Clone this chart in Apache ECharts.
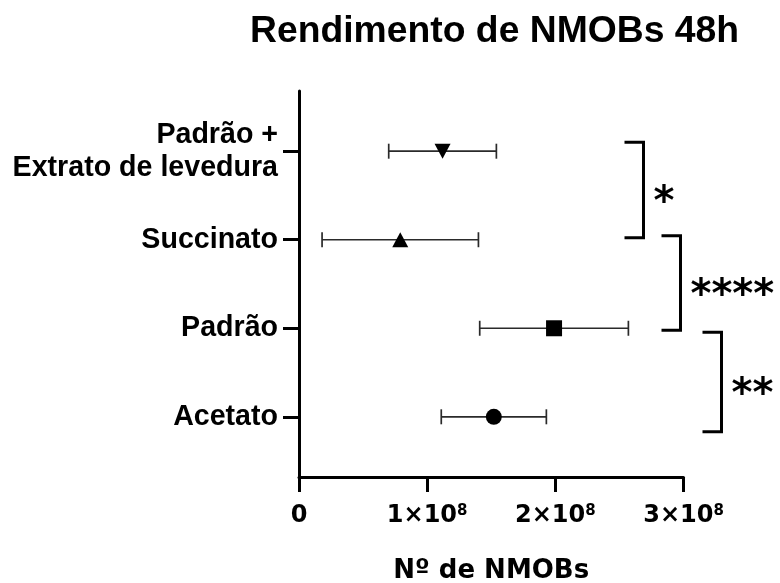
<!DOCTYPE html>
<html>
<head>
<meta charset="utf-8">
<script src="https://cdn.jsdelivr.net/npm/echarts@6/dist/echarts.min.js"></script>
<style>
  html, body { margin: 0; padding: 0; background: #fff; }
  #chart { width: 780px; height: 583px; }
</style>
</head>
<body>
<div id="chart"></div>
<script>
// Groups, bottom to top along the y axis
const categories = ['Acetato', 'Padrão', 'Succinato', 'Padrão +\nExtrato de levedura'];
// Mean yield and error (NMOBs) per group
const means = [1.52e8, 1.99e8, 0.79e8, 1.12e8];
const errors = [0.41e8, 0.58e8, 0.61e8, 0.42e8];
const symbols = ['circle', 'rect', 'triangle', 'triangle'];
const symbolRotations = [0, 0, 0, 180];
// X axis ticks
const xTicks = [0, 1e8, 2e8, 3e8];
// Significance comparisons (category indices) and their labels
const sigFrom = [3, 2, 1];
const sigTo = [2, 1, 0];
const sigLabels = ['*', '****', '**'];

const FONT = "'Liberation Sans', Arial, Helvetica, sans-serif";
const WIDE = "'DejaVu Sans', Verdana, sans-serif";

// bracket layout: horizontal offset from the axis end, and vertical trims (px)
const bracketLayout = [
  { dx: -40, topOff: -9, botOff: -2 },
  { dx: -3, topOff: -4, botOff: 2 },
  { dx: 38, topOff: 4, botOff: 15 }
];

const chart = echarts.init(document.getElementById('chart'), null, { renderer: 'canvas' });

const option = {
  backgroundColor: '#ffffff',
  animation: false,
  title: {
    text: 'Rendimento de NMOBs 48h',
    left: 245,
    top: 8,
    textStyle: { fontFamily: FONT, fontWeight: 'bold', fontSize: 37.3, color: '#000' }
  },
  grid: { left: 299, right: 96.5, top: 91, bottom: 106, containLabel: false, outerBoundsMode: 'none' },
  xAxis: {
    type: 'value',
    min: xTicks[0],
    max: xTicks[xTicks.length - 1],
    interval: xTicks[1] - xTicks[0],
    name: 'Nº de NMOBs',
    nameLocation: 'middle',
    nameGap: 81,
    nameTextStyle: { fontFamily: WIDE, fontWeight: 'bold', fontSize: 26, color: '#000' },
    axisLine: { show: true, onZero: false, lineStyle: { color: '#000', width: 3 } },
    axisTick: { show: true, inside: false, length: 15, lineStyle: { color: '#000', width: 3 } },
    splitLine: { show: false },
    axisLabel: {
      margin: 27,
      formatter: function (v) {
        if (v === 0) return '{b|0}';
        const n = Math.round(v / 1e8);
        return '{b|' + n + '×10}{s|8}';
      },
      rich: {
        b: { fontFamily: WIDE, fontWeight: 'bold', fontSize: 24, color: '#000' },
        s: { fontFamily: WIDE, fontWeight: 'bold', fontSize: 15, color: '#000', padding: [0, 0, 9, 0] }
      }
    }
  },
  yAxis: {
    type: 'value',
    min: -0.68,
    max: 3.68,
    axisLine: { show: true, onZero: false, lineStyle: { color: '#000', width: 3 } },
    axisTick: { show: true, length: 16, customValues: [0, 1, 2, 3], lineStyle: { color: '#000', width: 3 } },
    splitLine: { show: false },
    axisLabel: {
      margin: 21,
      customValues: [0, 1, 2, 3],
      formatter: function (v) { return categories[Math.round(v)]; },
      fontFamily: FONT,
      fontWeight: 'bold',
      fontSize: 28.6,
      lineHeight: 33,
      padding: [4, 0, 0, 0],
      color: '#000',
      align: 'right'
    }
  },
  series: [
    {
      // error bars with end caps
      type: 'custom',
      z: 2,
      data: means.map((m, i) => [m - errors[i], m + errors[i], i]),
      renderItem: function (params, api) {
        const lo = api.coord([api.value(0), api.value(2)]);
        const hi = api.coord([api.value(1), api.value(2)]);
        const cap = 7.5;
        const style = { stroke: '#2a2a2a', lineWidth: 1.7 };
        return {
          type: 'group',
          children: [
            { type: 'line', shape: { x1: lo[0], y1: lo[1], x2: hi[0], y2: hi[1] }, style },
            { type: 'line', shape: { x1: lo[0], y1: lo[1] - cap, x2: lo[0], y2: lo[1] + cap }, style },
            { type: 'line', shape: { x1: hi[0], y1: hi[1] - cap, x2: hi[0], y2: hi[1] + cap }, style }
          ]
        };
      }
    },
    {
      type: 'scatter',
      z: 3,
      data: means.map((m, i) => ({
        value: [m, i],
        symbol: symbols[i],
        symbolRotate: symbolRotations[i],
        symbolSize: symbols[i] === 'triangle' ? [16, 15] : 16
      })),
      itemStyle: { color: '#000', opacity: 1 }
    },
    {
      // significance brackets
      type: 'custom',
      z: 4,
      clip: false,
      silent: true,
      data: sigFrom.map((f, i) => [f, sigTo[i], i]),
      renderItem: function (params, api) {
        const i = api.value(2);
        const lay = bracketLayout[i];
        const xEnd = api.coord([xTicks[xTicks.length - 1], 0])[0];
        const x = xEnd + lay.dx;
        const yTop = api.coord([0, api.value(0)])[1] + lay.topOff;
        const yBot = api.coord([0, api.value(1)])[1] + lay.botOff;
        const arm = 19;
        const style = { stroke: '#000', lineWidth: 3, fill: null, lineJoin: 'miter' };
        return {
          type: 'group',
          children: [
            {
              type: 'polyline',
              shape: { points: [[x - arm, yTop], [x, yTop], [x, yBot], [x - arm, yBot]] },
              style
            },
            {
              type: 'text',
              x: x + 10,
              y: (yTop + yBot) / 2 + 14,
              style: {
                text: sigLabels[i],
                fontFamily: WIDE,
                fontWeight: 'bold',
                fontSize: 40,
                fill: '#000',
                align: 'left',
                verticalAlign: 'middle'
              }
            }
          ]
        };
      }
    }
  ]
};

chart.setOption(option);
</script>
</body>
</html>
